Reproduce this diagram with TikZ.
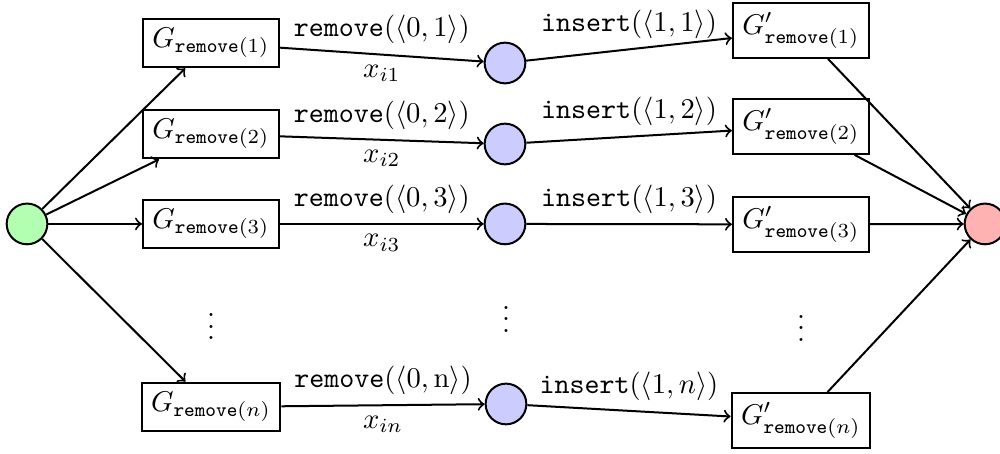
\documentclass[tikz,border=0pt]{standalone}
\begin{document}
\begin{tikzpicture}[line width=0.7pt, box/.style={draw, inner sep=3.33pt}, vtx/.style={draw, circle, minimum size=0.5cm}]
  \useasboundingbox (0,0) rectangle (12.285,5.577);
  \node[vtx, fill=green!30] (src) at (0.332,2.826) {};
  \node[vtx, fill=red!30] (snk) at (12.101,2.826) {};
  \node[box] (g1) at (2.592,5.049) {$G_{\mathtt{remove}(1)}$};
  \node[box] (g2) at (2.592,3.931) {$G_{\mathtt{remove}(2)}$};
  \node[box] (g3) at (2.592,2.826) {$G_{\mathtt{remove}(3)}$};
  \node[box] (gn) at (2.592,0.577) {$G_{\mathtt{remove}(n)}$};
  \node[vtx, fill=blue!20] (m1) at (6.204,4.803) {};
  \node[vtx, fill=blue!20] (m2) at (6.204,3.808) {};
  \node[vtx, fill=blue!20] (m3) at (6.204,2.826) {};
  \node[vtx, fill=blue!20] (mn) at (6.216,0.614) {};
  \node[box] (h1) at (9.840,5.203) {$G'_{\mathtt{remove}(1)}$};
  \node[box] (h2) at (9.840,4.023) {$G'_{\mathtt{remove}(2)}$};
  \node[box] (h3) at (9.840,2.820) {$G'_{\mathtt{remove}(3)}$};
  \node[box] (hn) at (9.840,0.412) {$G'_{\mathtt{remove}(n)}$};
  \node (d1) at (2.592,1.67) {$\vdots$};
  \node (d2) at (6.216,1.76) {$\vdots$};
  \node (d3) at (9.840,1.65) {$\vdots$};
  \draw[->] (src) -- (g1);
  \draw[->] (src) -- (g2);
  \draw[->] (src) -- (g3);
  \draw[->] (src) -- (gn);
  \draw[->] (g1) -- node[above] {\texttt{remove}$(\langle 0,1\rangle)$} node[below] {$x_{i1}$} (m1);
  \draw[->] (g2) -- node[above] {\texttt{remove}$(\langle 0,2\rangle)$} node[below] {$x_{i2}$} (m2);
  \draw[->] (g3) -- node[above] {\texttt{remove}$(\langle 0,3\rangle)$} node[below] {$x_{i3}$} (m3);
  \draw[->] (gn) -- node[above] {\texttt{remove}$(\langle 0,\mathrm{n}\rangle)$} node[below] {$x_{in}$} (mn);
  \draw[->] (m1) -- node[above] {\texttt{insert}$(\langle 1,1\rangle)$} (h1);
  \draw[->] (m2) -- node[above] {\texttt{insert}$(\langle 1,2\rangle)$} (h2);
  \draw[->] (m3) -- node[above] {\texttt{insert}$(\langle 1,3\rangle)$} (h3);
  \draw[->] (mn) -- node[above] {\texttt{insert}$(\langle 1,n\rangle)$} (hn);
  \draw[->] (h1) -- (snk);
  \draw[->] (h2) -- (snk);
  \draw[->] (h3) -- (snk);
  \draw[->] (hn) -- (snk);
\end{tikzpicture}
\end{document}
